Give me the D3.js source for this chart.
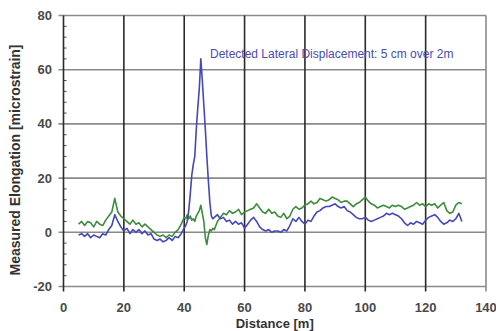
<!DOCTYPE html>
<html><head><meta charset="utf-8">
<script src="https://cdn.jsdelivr.net/npm/d3@7"></script>
<style>body{margin:0;background:#fff}svg{display:block}</style>
</head><body>
<script>
const distance = [5,6,7,8,9,10,11,12,13,14,15,16,17,18,19,20,21,22,23,24,25,26,27,28,29,30,31,32,33,34,35,36,37,38,39,40,
40.5,41,41.5,42,42.5,43,43.5,44,44.5,45,45.5,46,46.5,47,47.5,48,48.5,49,49.5,50,
51,52,53,54,55,56,57,58,59,60,61,62,63,64,65,66,67,68,69,70,71,72,73,74,75,76,77,78,79,80,
81,82,83,84,85,86,87,88,89,90,91,92,93,94,95,96,97,98,99,100,101,102,103,104,105,106,107,108,109,110,
111,112,113,114,115,116,117,118,119,120,121,122,123,124,125,126,127,128,129,130,131,132];
const blueValues = [-1,-0.5,-1.5,-0.5,-2,-1,-1.5,-2,-0.5,-1,1,2.5,6.5,4,2,0.5,1.5,-0.5,1,0,1,-0.5,0.5,-1,-0.5,-2.5,-3,-2.5,-3.5,-3,-2,-3,-1.5,-2,-0.5,1.5,
2.5,4,8,14,21,25,28,38,46,53,64,56,47,38,28,19,11,6,5,5.5,
6.5,5,5.5,4,4.5,3,4,3,3.5,1.5,3,4.5,5.5,4,2,1,0.5,1,0,0.5,0.5,0,1,0.5,2.5,5,4,5.5,4,3,
4.5,4,6,7.5,8,9,9.5,9.5,10,10.5,9.5,9,9.5,8,7.5,6.5,5.5,5,5,5.5,4.5,4,4.5,5,5.5,6,7,6.5,7,6.5,
6,5,3.5,2.5,3.5,3,4,3.5,3,4.5,5.5,6,6.5,5.5,4,3,3.5,4.5,4,5,7,4];
const greenValues = [3,4,2.5,4,3.5,2,4,3,2.5,4.5,6,7.5,12.5,7.5,6,5,4,3,4.5,3,3.5,2,3,2,1,0,-1,-1.5,-1,-2,-1,-1.5,0,1,3,5.5,
5,6.5,5,6,4.5,5,4,6,7,8,10,7,4,-2,-4.5,-1,1,0.5,1.5,1,
4,5.5,7,6.5,8,7,7.5,8.5,6.5,7.5,8,8.5,9,10.5,9,7.5,7,8.5,7,7.5,6,5.5,7,5,6,8.5,9.5,8.5,9,10,
10.5,11.5,10.5,11,12.5,12,11.5,12,13,12.5,12,11,11.5,11.5,10.5,9.5,10.5,11,12,13,11.5,10.5,10,9,9.5,10,9.5,9,10,9.5,
10,9.5,8.5,9,9.5,10,11,10,10.5,9.5,10.5,10,10.5,9,10,11,8,7,7.5,10,11,10.5];
const xTicks = [0,20,40,60,80,100,120,140];
const yTicks = [-20,0,20,40,60,80];
const yMinorTicks = d3.range(-20, 80.1, 4);
const annotation = "Detected Lateral Displacement: 5 cm over 2m";

const W = 496, H = 331;
const svg = d3.select("body").append("svg").attr("width", W).attr("height", H);
const x = d3.scaleLinear().domain([0,140]).range([63.5,486]);
const y = d3.scaleLinear().domain([-20,80]).range([286.5,15.5]);

svg.append("g").selectAll("line").data(yTicks).join("line")
  .attr("x1", x(0)-5).attr("x2", x(140)).attr("y1", d=>y(d)).attr("y2", d=>y(d))
  .attr("stroke", "#8a8a8a").attr("stroke-width", 1.6);
svg.append("line").attr("x1", x(140)).attr("x2", x(140)).attr("y1", y(80)).attr("y2", y(-20)+5)
  .attr("stroke", "#8a8a8a").attr("stroke-width", 1.6);
svg.append("g").selectAll("line").data(xTicks.filter(d=>d>0 && d<140)).join("line")
  .attr("x1", d=>x(d)).attr("x2", d=>x(d)).attr("y1", y(80)).attr("y2", y(-20)+5)
  .attr("stroke", "#2a2a2a").attr("stroke-width", 1.6);
svg.append("line").attr("x1", x(0)).attr("x2", x(0)).attr("y1", y(80)).attr("y2", y(-20)+5)
  .attr("stroke", "#2a2a2a").attr("stroke-width", 1.6);
svg.append("g").selectAll("line").data(yMinorTicks.filter(d=>d%20!==0)).join("line")
  .attr("x1", x(0)).attr("x2", x(0)+3).attr("y1", d=>y(d)).attr("y2", d=>y(d))
  .attr("stroke", "#444").attr("stroke-width", 1);

const line = d3.line().x((d,i)=>x(distance[i])).y(d=>y(d));
svg.append("path").datum(greenValues).attr("d", line).attr("fill","none")
  .attr("stroke", "#3c8c3c").attr("stroke-width", 1.6).attr("stroke-linejoin","round");
svg.append("path").datum(blueValues).attr("d", line).attr("fill","none")
  .attr("stroke", "#4547bb").attr("stroke-width", 1.6).attr("stroke-linejoin","round");

const font = "'Liberation Sans', Arial, sans-serif";
svg.append("g").selectAll("text").data(yTicks).join("text")
  .attr("x", 52).attr("y", d=>y(d)).attr("dy","0.35em").attr("text-anchor","end")
  .attr("font-family", font).attr("font-size", 13).attr("font-weight","bold").attr("fill","#4a4a4a")
  .text(d=>d);
svg.append("g").selectAll("text").data(xTicks).join("text")
  .attr("x", d=>x(d)).attr("y", 307).attr("dy","0.35em").attr("text-anchor","middle")
  .attr("font-family", font).attr("font-size", 13).attr("font-weight","bold").attr("fill","#4a4a4a")
  .text(d=>d);
svg.append("text").attr("x", x(70)).attr("y", 323).attr("dy","0.35em").attr("text-anchor","middle")
  .attr("font-family", font).attr("font-size", 13).attr("font-weight","bold").attr("fill","#333")
  .text("Distance [m]");
svg.append("text").attr("transform", `translate(15,160) rotate(-90)`).attr("text-anchor","middle")
  .attr("dy","0.35em")
  .attr("font-family", font).attr("font-size", 14).attr("font-weight","bold").attr("fill","#333")
  .text("Measured Elongation [microstrain]");
svg.append("text").attr("x", 210).attr("y", 54).attr("dy","0.35em")
  .attr("font-family", font).attr("font-size", 12).attr("fill","#4a4cb0")
  .text(annotation);
</script>
</body></html>
